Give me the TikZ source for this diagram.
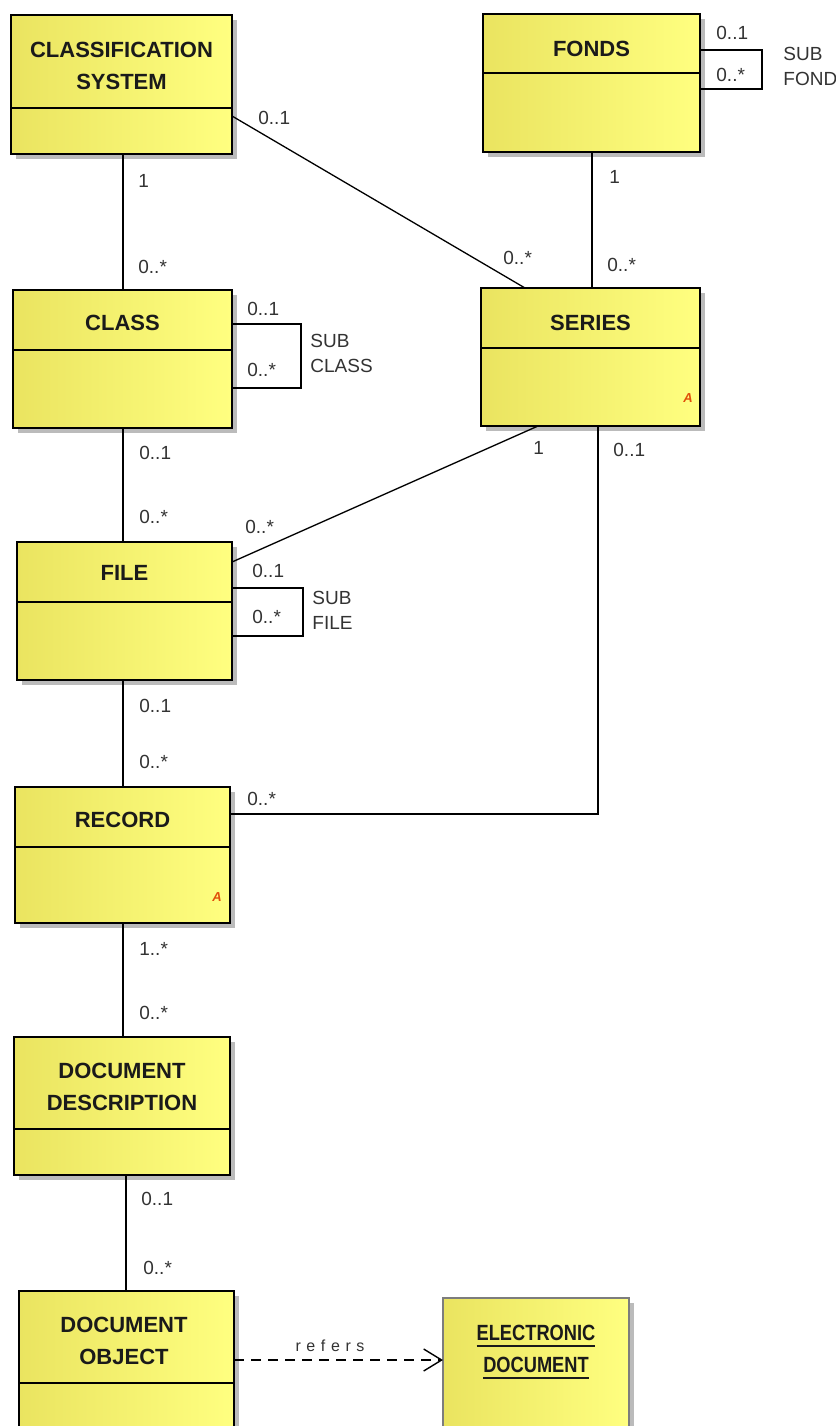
\documentclass[tikz,border=0pt]{standalone}
\usepackage{fontspec}
\usepackage{graphicx}
\setmainfont{Liberation Sans}
\usetikzlibrary{shadows,arrows.meta}

\definecolor{ylwL}{RGB}{234,228,96}
\definecolor{ylwR}{RGB}{255,255,128}
\definecolor{ink}{RGB}{26,26,26}
\definecolor{lbl}{RGB}{51,51,51}
\definecolor{absmark}{RGB}{225,80,10}
\definecolor{shade}{RGB}{170,170,170}
\definecolor{edgegray}{RGB}{125,125,125}

% underline drawn a little below the baseline, as in the class name
\newcommand\uscore[1]{{\setbox0\hbox{#1}\rlap{\rule[-3.2pt]{\wd0}{0.8pt}}\box0}}

\tikzset{
  cls/.style={draw=black, line width=0.75pt, left color=ylwL, right color=ylwR,
    inner sep=0pt, outer sep=0pt,
    drop shadow={shadow xshift=2.5pt, shadow yshift=-2.5pt, fill=shade, opacity=0.8}},
  title/.style={font=\fontsize{11}{16}\selectfont\bfseries, text=ink, align=center, inner sep=0pt},
  mult/.style={font=\fontsize{9.5}{12.5}\selectfont, text=lbl, anchor=west, inner sep=0pt, align=left},
  assoc/.style={line width=0.65pt, draw=black},
  divider/.style={line width=0.75pt},
  absA/.style={font=\fontsize{6.5}{7}\selectfont\bfseries\itshape, text=absmark, inner sep=0pt},
}

\begin{document}
\begin{tikzpicture}[x=0.5pt, y=-0.5pt]
\useasboundingbox (0,0) rectangle (836,1426);
\fill[white] (0,0) rectangle (836,1426);
\clip (0,0) rectangle (836,1426);

% ---------- classes ----------
\node[cls, minimum width=110.5pt, minimum height=69.5pt] (cs) at (121.5,84.5) {};
\draw[divider] (cs.west |- 0,108) -- (cs.east |- 0,108);
\node[title] (csT) at (121.5,66) {CLASSIFICATION\\SYSTEM};

\node[cls, minimum width=108.5pt, minimum height=69pt] (fonds) at (591.5,83) {};
\draw[divider] (fonds.west |- 0,73) -- (fonds.east |- 0,73);
\node[title] (fondsT) at (591.5,49) {FONDS};

\node[cls, minimum width=109.5pt, minimum height=69pt] (class) at (122.5,359) {};
\draw[divider] (class.west |- 0,350) -- (class.east |- 0,350);
\node[title] (classT) at (122.5,323) {CLASS};

\node[cls, minimum width=109.5pt, minimum height=69pt] (series) at (590.5,357) {};
\draw[divider] (series.west |- 0,348) -- (series.east |- 0,348);
\node[title] (seriesT) at (590.5,323) {SERIES};
\node[absA] (seriesA) at (688,398) {A};

\node[cls, minimum width=107.5pt, minimum height=69pt] (file) at (124.5,611) {};
\draw[divider] (file.west |- 0,602) -- (file.east |- 0,602);
\node[title] (fileT) at (124.5,573) {FILE};

\node[cls, minimum width=107.5pt, minimum height=68pt] (record) at (122.5,855) {};
\draw[divider] (record.west |- 0,847) -- (record.east |- 0,847);
\node[title] (recordT) at (122.5,820) {RECORD};
\node[absA] (recordA) at (217,897) {A};

\node[cls, minimum width=108pt, minimum height=69pt] (docdesc) at (122,1106) {};
\draw[divider] (docdesc.west |- 0,1129) -- (docdesc.east |- 0,1129);
\node[title] (docdescT) at (122,1087) {DOCUMENT\\DESCRIPTION};

\node[cls, minimum width=107.5pt, minimum height=79.5pt] (docobj) at (126.5,1370.5) {};
\draw[divider] (docobj.west |- 0,1383) -- (docobj.east |- 0,1383);
\node[title] (docobjT) at (124,1341) {DOCUMENT\\OBJECT};

\node[cls, draw=edgegray, minimum width=93pt, minimum height=76pt] (elec) at (536,1374) {};
\node[title] (elecT) at (536,1352)
  {\scalebox{0.83}[1]{\uscore{ELECTRONIC}}\\\scalebox{0.83}[1]{\uscore{DOCUMENT}}};

% ---------- associations ----------
\draw[assoc] (cs.south -| 123,0) -- (class.north -| 123,0);
\node[mult] (m1) at (138,181) {1};
\node[mult] (m2) at (138,267) {0..*};

\draw[assoc] (cs.east |- 0,116) -- (series.north -| 525,0);
\node[mult] (m3) at (258,118) {0..1};
\node[mult] (m4) at (503,258) {0..*};

\draw[assoc] (fonds.south -| 592,0) -- (series.north -| 592,0);
\node[mult] (m5) at (609,177) {1};
\node[mult] (m6) at (607,265) {0..*};

\draw[assoc] (fonds.east |- 0,50) -| (762,70) |- (fonds.east |- 0,89);
\node[mult] (m7) at (716,33) {0..1};
\node[mult] (m8) at (716,75) {0..*};
\node[mult] (subF) at (783,66) {SUB\\FONDS};

\draw[assoc] (class.east |- 0,324) -| (301,356) |- (class.east |- 0,388);
\node[mult] (m9) at (247,309) {0..1};
\node[mult] (m10) at (247,370) {0..*};
\node[mult] (subC) at (310,353.5) {SUB\\CLASS};

\draw[assoc] (class.south -| 123,0) -- (file.north -| 123,0);
\node[mult] (m11) at (139,453) {0..1};
\node[mult] (m12) at (139,517) {0..*};

\draw[assoc] (series.south -| 538,0) -- (file.east |- 0,562);
\node[mult] (m13) at (533,448) {1};
\node[mult] (m14) at (245,527) {0..*};

\draw[assoc] (file.east |- 0,588) -| (303,612) |- (file.east |- 0,636);
\node[mult] (m15) at (252,571) {0..1};
\node[mult] (m16) at (252,617) {0..*};
\node[mult] (subFi) at (312,610.5) {SUB\\FILE};

\draw[assoc] (series.south -| 598,0) |- (record.east |- 0,814);
\node[mult] (m17) at (613,450) {0..1};
\node[mult] (m18) at (247,799) {0..*};

\draw[assoc] (file.south -| 123,0) -- (record.north -| 123,0);
\node[mult] (m19) at (139,706) {0..1};
\node[mult] (m20) at (139,762) {0..*};

\draw[assoc] (record.south -| 123,0) -- (docdesc.north -| 123,0);
\node[mult] (m21) at (139,949) {1..*};
\node[mult] (m22) at (139,1013) {0..*};

\draw[assoc] (docdesc.south -| 126,0) -- (docobj.north -| 126,0);
\node[mult] (m23) at (141,1199) {0..1};
\node[mult] (m24) at (143,1268) {0..*};

% ---------- dependency ----------
\draw[assoc, dash pattern=on 5pt off 3.5pt,
  -{Straight Barb[length=9pt,width=11pt,line width=0.7pt]}]
  (docobj.east |- 0,1360) -- (elec.west |- 0,1360);
\node[font=\fontsize{8}{9}\selectfont\addfontfeature{LetterSpace=35}, text=lbl, inner sep=0pt]
  (refers) at (330,1346) {refers};
\end{tikzpicture}
\end{document}
